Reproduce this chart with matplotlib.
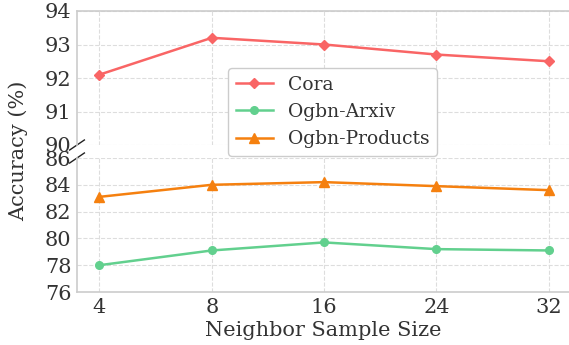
import numpy as np
import matplotlib.pyplot as plt

# Data
sizes = ['4', '8', '16', '24', '32']
cora = [92.1, 93.2, 93.0, 92.7, 92.5]
arxiv = [78.0, 79.1, 79.7, 79.2, 79.1]
products = [83.1, 84.0, 84.2, 83.9, 83.6]

plt.rcParams['font.family'] = 'DejaVu Serif'
plt.rcParams['text.color'] = '#333333'
plt.rcParams['axes.labelcolor'] = '#333333'
plt.rcParams['xtick.color'] = '#333333'
plt.rcParams['ytick.color'] = '#333333'

fig = plt.figure(figsize=(5.69, 3.45), dpi=100)
W, H = 569, 345
ax1 = fig.add_axes([77/W, 1-145/H, 492/W, 134/H])
ax2 = fig.add_axes([77/W, 1-292/H, 492/W, 134/H])

x = np.arange(len(sizes))
c_red, c_green, c_orange = '#F96565', '#62D08E', '#F5800F'

for ax in (ax1, ax2):
    l1, = ax.plot(x, cora, color=c_red, marker='D', markersize=5.5, linewidth=1.8, label='Cora')
    l2, = ax.plot(x, arxiv, color=c_green, marker='o', markersize=5.5, linewidth=1.8, label='Ogbn-Arxiv')
    l3, = ax.plot(x, products, color=c_orange, marker='^', markersize=6.5, linewidth=1.8, label='Ogbn-Products')
    ax.set_xlim(-0.2, 4.18)
    ax.grid(True, linestyle='--', color='#dddddd', linewidth=0.8)
    ax.set_axisbelow(True)
    ax.spines['right'].set_visible(False)
    for s in ('left', 'top', 'bottom'):
        ax.spines[s].set_color('#cccccc')
        ax.spines[s].set_linewidth(1.2)
    ax.tick_params(labelsize=15, length=0, pad=4)

ax1.set_ylim(90, 94)
ax1.set_yticks([90, 91, 92, 93, 94])
ax1.spines['bottom'].set_visible(False)
ax1.set_xticks(x)
ax1.tick_params(labelbottom=False)

ax2.set_ylim(76, 86)
ax2.set_yticks([76, 78, 80, 82, 84, 86])
ax2.spines['top'].set_visible(False)
ax2.set_xticks(x)
ax2.set_xticklabels(sizes)
ax2.set_xlabel('Neighbor Sample Size', fontsize=15, labelpad=3)

# break marks
d = 0.015
kw = dict(color='#222222', clip_on=False, linewidth=1)
ax1.plot((-d, d), (-d*2.5, d*2.5), transform=ax1.transAxes, **kw)
ax2.plot((-d, d), (1-d*2.5, 1+d*2.5), transform=ax2.transAxes, **kw)

fig.text(18/W, 1-151/H, 'Accuracy (%)', rotation=90, fontsize=15, ha='center', va='center')

fig.legend(handles=[l1, l2, l3], loc='upper left', bbox_to_anchor=(228/W, 1-68/H),
           fontsize=13.5, frameon=True, edgecolor='#cccccc', framealpha=1,
           handlelength=2.0, borderpad=0.4, labelspacing=0.5, borderaxespad=0)

fig.savefig('out.png', dpi=100)
